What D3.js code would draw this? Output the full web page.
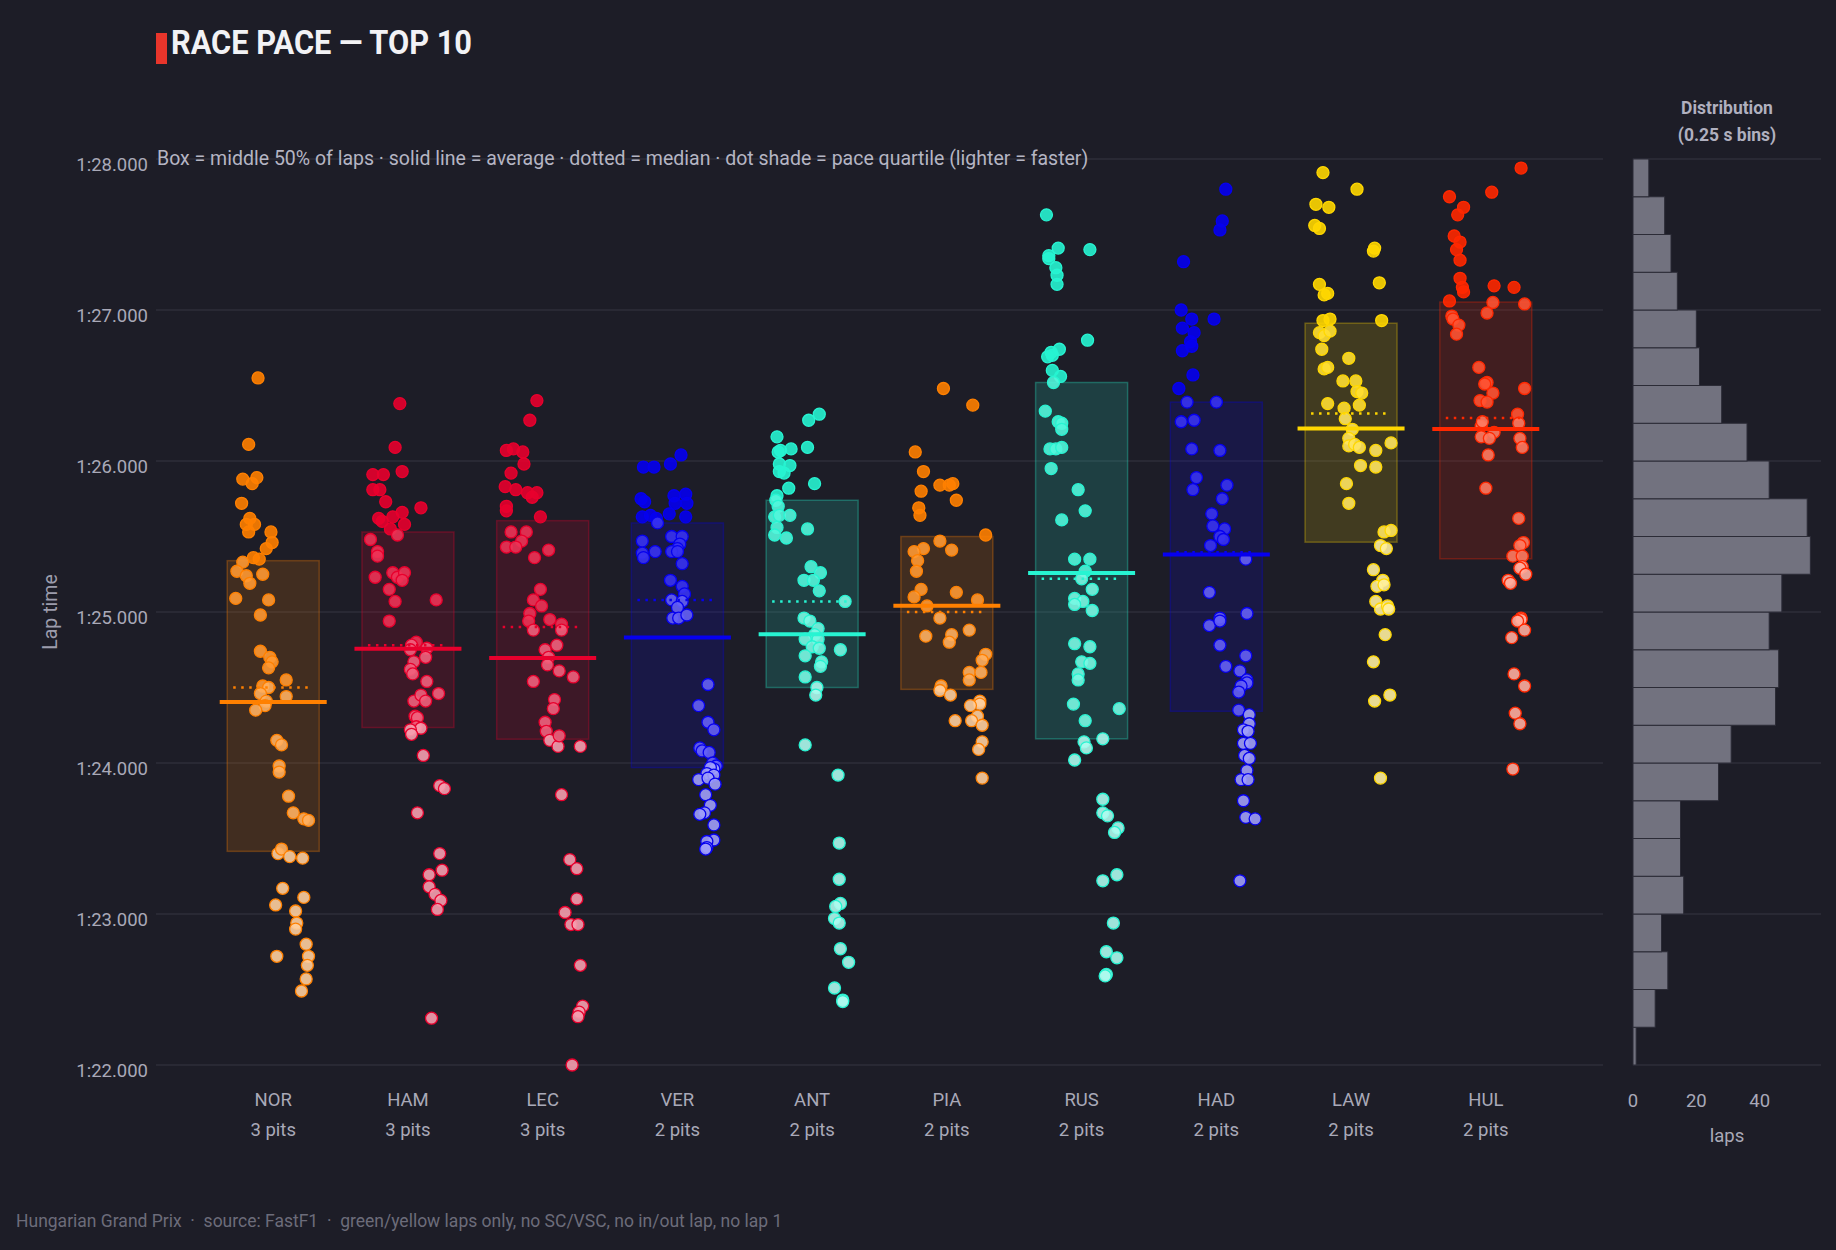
<!DOCTYPE html>
<html>
<head>
<meta charset="utf-8">
<script src="https://cdn.jsdelivr.net/npm/d3@7"></script>
<style>
  body { margin: 0; background: #1d1d27; }
  svg { display: block; font-family: Roboto, "Open Sans", sans-serif; }
</style>
</head>
<body>
<svg width="1836" height="1250"></svg>
<script>
// drivers, pit counts, team colours
var drivers = ["NOR", "HAM", "LEC", "VER", "ANT", "PIA", "RUS", "HAD", "LAW", "HUL"];
var pits = [3, 3, 3, 2, 2, 2, 2, 2, 2, 2];
var teamColors = ["#FF8000", "#E8002D", "#E8002D", "#0600EF", "#27F4D2", "#FF8000", "#27F4D2", "#0600EF", "#FFD700", "#FF2800"];

// [lap, lap time in s]
var nor = [[23,86.55],[15,86.11],[10,85.88],[22,85.89],[18,85.85],[9,85.72],[16,85.62],[13,85.58],[20,85.58],[15,85.53],
  [34,85.53],[35,85.46],[30,85.42],[19,85.36],[24,85.35],[10,85.33],[5,85.27],[13,85.24],[16,85.19],[27,85.25],
  [4,85.09],[32,85.08],[25,84.98],[25,84.74],[33,84.70],[35,84.67],[32,84.63],[47,84.55],[27,84.51],[32,84.50],
  [25,84.46],[47,84.44],[30,84.41],[29,84.38],[21,84.35],[39,84.15],[43,84.12],[41,83.98],[41,83.94],[49,83.78],
  [53,83.67],[62,83.63],[66,83.62],[40,83.40],[43,83.43],[50,83.38],[61,83.37],[44,83.17],[38,83.06],[62,83.11],
  [55,83.02],[56,82.94],[55,82.90],[64,82.80],[66,82.72],[65,82.66],[64,82.57],[60,82.49],[39,82.72]];
var ham = [[29,86.38],[25,86.09],[6,85.91],[15,85.91],[31,85.93],[6,85.81],[12,85.81],[17,85.73],[47,85.69],[11,85.62],
  [14,85.60],[23,85.63],[31,85.66],[33,85.58],[21,85.55],[27,85.51],[4,85.48],[10,85.40],[10,85.37],[23,85.26],
  [27,85.23],[33,85.26],[31,85.21],[8,85.23],[20,85.15],[60,85.08],[25,85.07],[20,84.94],[43,84.80],[39,84.78],
  [52,84.76],[38,84.75],[41,84.67],[51,84.70],[38,84.62],[40,84.59],[52,84.54],[62,84.46],[41,84.41],[47,84.45],
  [51,84.41],[42,84.31],[44,84.30],[43,84.24],[47,84.23],[38,84.22],[39,84.19],[49,84.05],[63,83.85],[67,83.83],
  [44,83.67],[63,83.40],[65,83.29],[54,83.26],[54,83.18],[59,83.13],[64,83.09],[61,83.03],[56,82.31]];
var lec = [[31,86.40],[25,86.27],[5,86.07],[11,86.08],[19,86.06],[20,85.98],[9,85.92],[4,85.83],[13,85.81],[23,85.79],
  [31,85.79],[27,85.76],[5,85.70],[5,85.67],[34,85.63],[9,85.53],[22,85.53],[18,85.47],[5,85.43],[13,85.43],
  [41,85.41],[29,85.36],[34,85.15],[28,85.08],[35,85.04],[25,84.99],[24,84.94],[42,84.95],[52,84.92],[28,84.88],
  [52,84.88],[48,84.78],[38,84.75],[41,84.70],[40,84.65],[50,84.61],[62,84.57],[28,84.54],[46,84.42],[45,84.36],
  [38,84.27],[39,84.21],[42,84.15],[49,84.11],[50,84.18],[68,84.11],[52,83.79],[59,83.36],[65,83.30],[65,83.10],
  [55,83.01],[60,82.93],[66,82.93],[68,82.66],[70,82.39],[67,82.35],[66,82.32],[61,82.00]];
var ver = [[39,86.04],[30,85.98],[7,85.96],[16,85.96],[5,85.75],[8,85.73],[33,85.77],[43,85.78],[34,85.72],[44,85.72],
  [6,85.63],[13,85.64],[18,85.62],[19,85.59],[29,85.65],[43,85.63],[6,85.47],[31,85.50],[40,85.50],[38,85.45],
  [36,85.42],[6,85.39],[7,85.36],[17,85.40],[31,85.40],[36,85.40],[40,85.32],[30,85.21],[40,85.17],[42,85.12],
  [31,85.08],[40,85.07],[36,85.03],[32,84.96],[37,84.96],[44,84.98],[62,84.52],[54,84.38],[62,84.27],[67,84.22],
  [55,84.10],[57,84.08],[63,84.07],[66,84.00],[69,83.98],[67,83.96],[64,83.97],[61,83.93],[67,83.92],[54,83.89],
  [62,83.90],[68,83.86],[60,83.79],[64,83.72],[59,83.67],[55,83.66],[67,83.59],[67,83.49],[61,83.48],[61,83.44],[60,83.43]];
var ant = [[42,86.31],[33,86.27],[6,86.16],[7,86.06],[9,86.07],[18,86.08],[32,86.09],[8,85.98],[8,85.93],[12,85.92],
  [17,85.97],[16,85.82],[38,85.85],[6,85.77],[5,85.74],[7,85.70],[4,85.63],[8,85.64],[17,85.64],[6,85.56],
  [4,85.51],[14,85.49],[32,85.55],[35,85.30],[43,85.26],[29,85.21],[37,85.21],[42,85.14],[64,85.07],[29,84.96],
  [34,84.94],[41,84.89],[38,84.85],[30,84.82],[41,84.82],[36,84.77],[42,84.76],[60,84.75],[30,84.71],[44,84.67],
  [43,84.64],[30,84.57],[40,84.50],[39,84.45],[30,84.12],[58,83.92],[59,83.47],[59,83.23],[60,83.07],[56,83.05],
  [55,82.97],[59,82.94],[60,82.77],[67,82.68],[55,82.51],[62,82.43],[62,82.42]];
var pia = [[33,86.48],[58,86.37],[9,86.06],[16,85.93],[14,85.80],[30,85.84],[38,85.84],[41,85.85],[12,85.69],[13,85.64],
  [44,85.74],[69,85.51],[30,85.47],[16,85.42],[40,85.41],[8,85.40],[11,85.34],[10,85.27],[14,85.15],[8,85.10],
  [44,85.13],[62,85.08],[19,85.04],[30,84.96],[55,84.88],[18,84.84],[40,84.85],[38,84.80],[69,84.72],[66,84.68],
  [55,84.60],[65,84.60],[55,84.55],[31,84.51],[30,84.48],[39,84.45],[64,84.41],[64,84.39],[56,84.38],[62,84.31],
  [57,84.28],[66,84.25],[43,84.28],[66,84.14],[63,84.09],[66,83.90]];
var rus = [[6,87.63],[16,87.41],[8,87.36],[8,87.34],[43,87.40],[14,87.28],[15,87.23],[15,87.17],[41,86.80],[17,86.74],
  [10,86.72],[7,86.69],[11,86.70],[11,86.60],[18,86.56],[12,86.52],[5,86.33],[16,86.26],[19,86.25],[19,86.21],
  [9,86.08],[14,86.08],[19,86.09],[10,85.95],[33,85.81],[39,85.67],[19,85.61],[30,85.35],[43,85.35],[39,85.27],
  [36,85.22],[45,85.15],[30,85.09],[37,85.07],[45,85.01],[30,85.05],[30,84.79],[43,84.77],[36,84.67],[43,84.66],
  [33,84.59],[33,84.55],[29,84.39],[68,84.36],[39,84.28],[54,84.16],[38,84.14],[40,84.10],[30,84.02],[54,83.76],
  [54,83.67],[58,83.65],[67,83.57],[64,83.54],[54,83.22],[66,83.26],[63,82.94],[57,82.75],[66,82.71],[57,82.60],[56,82.59]];
var had = [[44,87.80],[41,87.59],[39,87.53],[8,87.32],[6,87.00],[15,86.94],[34,86.94],[7,86.88],[17,86.85],[14,86.79],
  [15,86.76],[7,86.73],[16,86.57],[4,86.48],[11,86.39],[36,86.39],[6,86.26],[17,86.27],[15,86.08],[39,86.07],
  [19,85.89],[45,85.84],[16,85.81],[41,85.75],[32,85.65],[33,85.57],[43,85.55],[39,85.50],[42,85.48],[31,85.44],
  [61,85.35],[30,85.13],[39,84.96],[62,84.99],[30,84.91],[39,84.94],[39,84.78],[61,84.71],[44,84.64],[56,84.61],
  [62,84.55],[62,84.53],[57,84.51],[55,84.47],[55,84.35],[64,84.32],[64,84.26],[59,84.22],[63,84.21],[59,84.13],
  [65,84.13],[60,84.05],[64,84.03],[62,83.95],[57,83.89],[63,83.89],[59,83.75],[61,83.64],[69,83.63],[56,83.22]];
var law = [[12,87.91],[41,87.80],[6,87.70],[17,87.68],[5,87.56],[9,87.54],[56,87.41],[55,87.39],[60,87.18],[9,87.17],
  [13,87.10],[16,87.11],[62,86.93],[12,86.93],[18,86.94],[9,86.85],[13,86.83],[18,86.86],[11,86.74],[34,86.68],
  [13,86.61],[16,86.62],[29,86.53],[40,86.53],[41,86.46],[45,86.45],[16,86.38],[43,86.37],[30,86.35],[31,86.28],
  [37,86.21],[34,86.15],[34,86.10],[39,86.11],[43,86.09],[57,86.07],[70,86.12],[44,85.97],[57,85.96],[32,85.85],
  [34,85.72],[64,85.53],[70,85.54],[61,85.44],[66,85.42],[55,85.28],[63,85.21],[58,85.17],[64,85.18],[57,85.07],
  [61,85.02],[67,85.04],[68,85.02],[65,84.85],[55,84.67],[56,84.41],[69,84.45],[61,83.90]];
var hul = [[66,87.94],[41,87.78],[5,87.75],[17,87.68],[12,87.63],[9,87.49],[14,87.45],[11,87.40],[14,87.33],[14,87.21],
  [16,87.15],[17,87.12],[43,87.16],[60,87.15],[5,87.06],[42,87.05],[69,87.04],[37,86.98],[7,86.96],[8,86.94],
  [13,86.90],[11,86.84],[30,86.62],[37,86.52],[35,86.51],[69,86.48],[42,86.45],[31,86.40],[37,86.39],[63,86.31],
  [64,86.25],[32,86.23],[33,86.26],[43,86.19],[32,86.16],[39,86.15],[65,86.15],[67,86.09],[38,86.04],[36,85.82],
  [64,85.62],[68,85.46],[65,85.44],[59,85.37],[67,85.37],[67,85.30],[65,85.29],[70,85.25],[55,85.21],[57,85.19],
  [66,84.96],[66,84.95],[63,84.94],[69,84.88],[58,84.83],[60,84.59],[69,84.51],[61,84.33],[65,84.26],[59,83.96]];

// histogram of all laps, 0.25 s bins from 1:22.000 upwards
var histStart = 82, histStep = 0.25;
var histCounts = [1,7,11,9,16,15,15,27,31,45,46,43,47,56,55,43,36,28,21,20,14,12,10,5];

var yTicks = [82, 83, 84, 85, 86, 87, 88];
var histTicks = [0, 20, 40];

var lapData = [nor, ham, lec, ver, ant, pia, rus, had, law, hul];

var svg = d3.select("svg"),
  width = +svg.attr("width"),
  height = +svg.attr("height");

var bg = "#1d1d27", gridCol = "#2e2e3a", textCol = "#a9a9b8";

svg.append("rect").attr("width", width).attr("height", height).attr("fill", bg);

var y = d3.scaleLinear().domain([82, 88]).range([1065, 159]);
var x = d3.scalePoint().domain(drivers).range([156, 1603]).padding(0.87);
var lapOffset = d3.scaleLinear().domain([1, 70]).range([-41, 40]);
var hx = d3.scaleLinear().domain([0, d3.max(histCounts) * 1.06]).range([1633, 1821]);

var fmt = t => "1:" + d3.format("06.3f")(t - 60);

// gridlines
var grid = svg.append("g");
grid.selectAll(".gm").data(yTicks).enter().append("line")
  .attr("x1", 156).attr("x2", 1603)
  .attr("y1", d => y(d)).attr("y2", d => y(d))
  .attr("stroke", gridCol).attr("stroke-width", 1.5);
grid.selectAll(".gh").data(yTicks).enter().append("line")
  .attr("x1", 1633).attr("x2", 1821)
  .attr("y1", d => y(d)).attr("y2", d => y(d))
  .attr("stroke", gridCol).attr("stroke-width", 1.5);

// y axis labels
var yAxis = svg.append("g").attr("transform", "translate(148,0)")
  .call(d3.axisLeft(y).tickValues(yTicks).tickFormat(fmt).tickSize(0).tickPadding(0));
yAxis.select(".domain").remove();
yAxis.selectAll("text").attr("fill", textCol).attr("font-size", 18.5).attr("dy", "0.62em")
  .style("font-family", "Roboto, sans-serif");

svg.append("text").attr("transform", "translate(57,612) rotate(-90)")
  .attr("text-anchor", "middle").attr("fill", "#9c9cac").attr("font-size", 19.5).text("Lap time");

// title + subtitle
svg.append("rect").attr("x", 156).attr("y", 33).attr("width", 11).attr("height", 31).attr("fill", "#e8352b");
svg.append("text").attr("x", 171).attr("y", 54)
  .attr("font-size", 34).attr("font-weight", "bold").attr("fill", "#f2f2f5")
  .attr("textLength", 301).attr("lengthAdjust", "spacingAndGlyphs")
  .text("RACE PACE — TOP 10");
svg.append("text").attr("x", 157).attr("y", 165)
  .attr("font-size", 19.5).attr("fill", "#b5b5c3")
  .text("Box = middle 50% of laps · solid line = average · dotted = median · dot shade = pace quartile (lighter = faster)");

// one group per driver
var shade = [0, 0.2, 0.38, 0.62];

drivers.forEach(function (drv, i) {
  var laps = lapData[i], col = teamColors[i], cx = x(drv);
  var times = laps.map(d => d[1]).sort(d3.ascending);
  var q1 = d3.quantile(times, 0.25), med = d3.quantile(times, 0.5), q3 = d3.quantile(times, 0.75);
  var avg = d3.mean(times);

  var g = svg.append("g").attr("class", "driver");

  g.append("rect")
    .attr("x", cx - 46).attr("width", 92)
    .attr("y", y(q3)).attr("height", y(q1) - y(q3))
    .attr("fill", col).attr("fill-opacity", 0.16)
    .attr("stroke", col).attr("stroke-opacity", 0.3).attr("stroke-width", 1.5);

  g.selectAll("circle").data(laps).enter().append("circle")
    .attr("cx", d => cx + lapOffset(d[0]))
    .attr("cy", d => y(d[1]))
    .attr("r", 6)
    .attr("fill", function (d) {
      var q = d[1] > q3 ? 0 : d[1] > med ? 1 : d[1] > q1 ? 2 : 3;
      return d3.interpolateRgb(col, "#ffffff")(shade[q]);
    })
    .attr("fill-opacity", 0.9)
    .attr("stroke", col).attr("stroke-width", 1.3);

  g.append("line")
    .attr("x1", cx - 40).attr("x2", cx + 40)
    .attr("y1", y(med)).attr("y2", y(med))
    .attr("stroke", col).attr("stroke-width", 2.5).attr("stroke-dasharray", "2.5,5.5");

  g.append("line")
    .attr("x1", cx - 53.5).attr("x2", cx + 53.5)
    .attr("y1", y(avg)).attr("y2", y(avg))
    .attr("stroke", col).attr("stroke-width", 4);

  g.append("text").attr("x", cx).attr("y", 1106).attr("text-anchor", "middle")
    .attr("fill", textCol).attr("font-size", 18.5).text(drv);
  g.append("text").attr("x", cx).attr("y", 1136).attr("text-anchor", "middle")
    .attr("fill", textCol).attr("font-size", 18.5).text(pits[i] + " pits");
});

// distribution panel
var hist = svg.append("g");
hist.selectAll("rect").data(histCounts).enter().append("rect")
  .attr("x", hx(0))
  .attr("y", (d, i) => y(histStart + (i + 1) * histStep))
  .attr("width", d => hx(d) - hx(0))
  .attr("height", (d, i) => y(histStart + i * histStep) - y(histStart + (i + 1) * histStep))
  .attr("fill", "#72727f").attr("stroke", "#2b2b36").attr("stroke-width", 1);

hist.selectAll(".ht").data(histTicks).enter().append("text")
  .attr("x", d => hx(d)).attr("y", 1107).attr("text-anchor", "middle")
  .attr("fill", textCol).attr("font-size", 18.5).text(d => d);
hist.append("text").attr("x", 1727).attr("y", 1142).attr("text-anchor", "middle")
  .attr("fill", textCol).attr("font-size", 18.5).text("laps");
hist.append("text").attr("x", 1727).attr("y", 114).attr("text-anchor", "middle")
  .attr("fill", "#b0b0bf").attr("font-size", 17.5).attr("font-weight", "bold").text("Distribution");
hist.append("text").attr("x", 1727).attr("y", 141).attr("text-anchor", "middle")
  .attr("fill", "#b0b0bf").attr("font-size", 17.5).attr("font-weight", "bold").text("(0.25 s bins)");

// footer
svg.append("text").attr("x", 16).attr("y", 1227)
  .attr("fill", "#6c6c7a").attr("font-size", 17.5).style("white-space", "pre")
  .text("Hungarian Grand Prix  ·  source: FastF1  ·  green/yellow laps only, no SC/VSC, no in/out lap, no lap 1");
</script>
</body>
</html>
